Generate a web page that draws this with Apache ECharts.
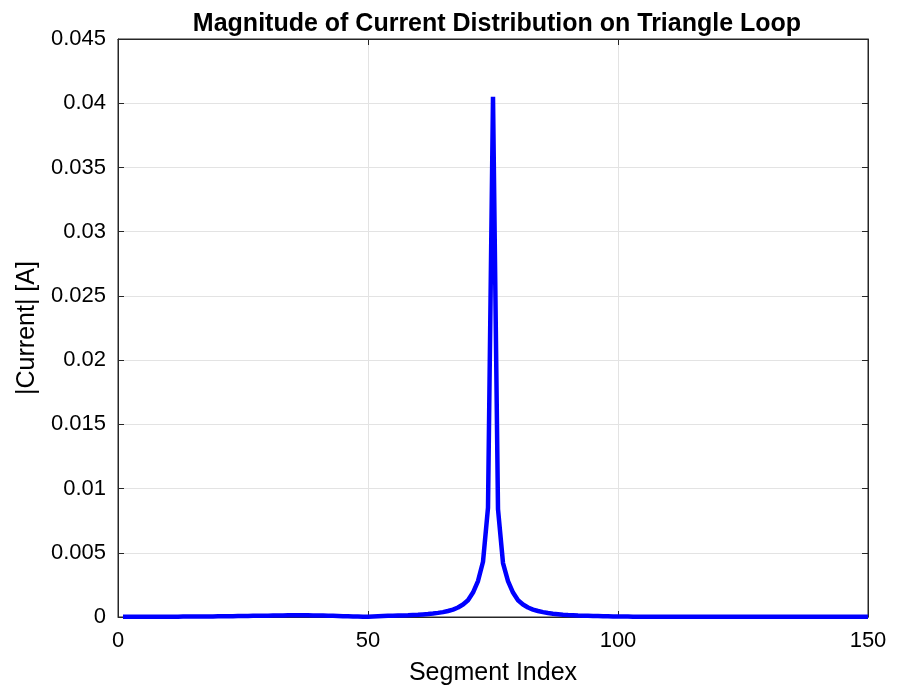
<!DOCTYPE html>
<html>
<head>
<meta charset="utf-8">
<script src="https://cdn.jsdelivr.net/npm/echarts@6/dist/echarts.min.js"></script>
<style>
  html, body { margin: 0; padding: 0; background: #fff; }
  #chart { width: 899px; height: 688px; }
</style>
</head>
<body>
<div id="chart"></div>
<script>
// |current| per segment (segments 1..150)
const currentMag = [
  0.00001, 0.00001, 0.00001, 0.00001, 0.00001, 0.00001, 0.00002, 0.00002, 0.00002, 0.00002,
  0.00002, 0.00002, 0.00003, 0.00003, 0.00003, 0.00003, 0.00004, 0.00004, 0.00004, 0.00005,
  0.00005, 0.00006, 0.00006, 0.00007, 0.00007, 0.00008, 0.00009, 0.00009, 0.0001, 0.0001,
  0.00011, 0.00012, 0.00012, 0.00013, 0.00013, 0.00013, 0.00013, 0.00013, 0.00012, 0.00012,
  0.00011, 0.0001, 0.00009, 0.00008, 0.00006, 0.00005, 0.00004, 0.00003, 0.00002, 0.00001,
  0.00003, 0.00005, 0.00007, 0.00009, 0.0001, 0.00011, 0.00012, 0.00013, 0.00015, 0.00017,
  0.0002, 0.00023, 0.00027, 0.00032, 0.00038, 0.00047, 0.00058, 0.00074, 0.00097, 0.0013,
  0.0019, 0.0028, 0.0043, 0.0085, 0.0405, 0.0084, 0.0042, 0.0028, 0.0019, 0.0013,
  0.00097, 0.00074, 0.00058, 0.00047, 0.00038, 0.00031, 0.00026, 0.00022, 0.00018, 0.00015,
  0.00013, 0.00011, 0.0001, 0.00009, 0.00008, 0.00007, 0.00006, 0.00005, 0.00004, 0.00003,
  0.00003, 0.00003, 0.00002, 0.00002, 0.00002, 0.00002, 0.00002, 0.00002, 0.00001, 0.00001,
  0.00001, 0.00001, 0.00001, 0.00001, 0.00001, 0.00001, 0.00001, 0.00001, 0.00001, 0.00001,
  0.00001, 0.00001, 0.00001, 0.00001, 0.00001, 0.00001, 0.00001, 0.00001, 0.00001, 0.00001,
  0.00001, 0.00001, 0.00001, 0.00001, 0.00001, 0.00001, 0.00001, 0.00001, 0.00001, 0.00001,
  0.00001, 0.00001, 0.00001, 0.00001, 0.00001, 0.00001, 0.00001, 0.00001, 0.00001, 0.00001
];
const segmentIndex = currentMag.map((v, i) => i + 1);

const titleText = 'Magnitude of Current Distribution on Triangle Loop';
const xName = 'Segment Index';
const yName = '|Current| [A]';

const font = 'Arial, "Liberation Sans", Helvetica, sans-serif';
const axisColor = '#262626';
const gridColor = '#e3e3e3';

// fresh objects each time so axes don't share them
function tickStyle () {
  return { show: true, inside: true, length: 6, lineStyle: { color: axisColor } };
}
function lineStyle () {
  return { show: true, onZero: false, lineStyle: { color: axisColor } };
}

let chart = echarts.init(document.getElementById('chart'));
let option = {
  backgroundColor: '#fff',
  animation: false,
  title: {
    text: titleText,
    left: 492,
    textAlign: 'center',
    top: 7,
    textStyle: { fontFamily: font, fontSize: 25, fontWeight: 'bold', color: '#000' }
  },
  grid: {
    left: 118, right: 31, top: 39, bottom: 71,
    containLabel: false,
    outerBoundsMode: 'none',
    show: true, borderColor: axisColor, borderWidth: 1
  },
  xAxis: [
    {
      type: 'value',
      min: 0, max: 150, interval: 50,
      name: xName,
      nameLocation: 'middle',
      nameGap: 44,
      nameTextStyle: { fontFamily: font, fontSize: 25, color: '#000' },
      axisLine: lineStyle(),
      axisTick: tickStyle(),
      axisLabel: { fontFamily: font, fontSize: 22, color: '#000', margin: 13 },
      splitLine: { show: true, lineStyle: { color: gridColor, width: 1 } }
    },
    {
      // top box edge ticks
      type: 'value', position: 'top',
      min: 0, max: 150, interval: 50,
      axisLine: lineStyle(),
      axisTick: tickStyle(),
      axisLabel: { show: false },
      splitLine: { show: false }
    }
  ],
  yAxis: [
    {
      type: 'value',
      min: 0, max: 0.045, interval: 0.005,
      name: yName,
      nameLocation: 'middle',
      nameGap: 78,
      nameTextStyle: { fontFamily: font, fontSize: 25, color: '#000' },
      axisLine: lineStyle(),
      axisTick: tickStyle(),
      axisLabel: {
        fontFamily: font, fontSize: 22, color: '#000', margin: 12,
        formatter: v => String(+v.toFixed(3))
      },
      splitLine: { show: true, lineStyle: { color: gridColor, width: 1 } }
    },
    {
      // right box edge ticks
      type: 'value', position: 'right',
      min: 0, max: 0.045, interval: 0.005,
      axisLine: lineStyle(),
      axisTick: tickStyle(),
      axisLabel: { show: false },
      splitLine: { show: false }
    }
  ],
  series: [
    {
      type: 'line',
      data: segmentIndex.map((x, i) => [x, currentMag[i]]),
      showSymbol: false,
      lineStyle: { color: '#0000ff', width: 4.5 },
      itemStyle: { color: '#0000ff' }
    }
  ]
};
chart.setOption(option);
</script>
</body>
</html>
